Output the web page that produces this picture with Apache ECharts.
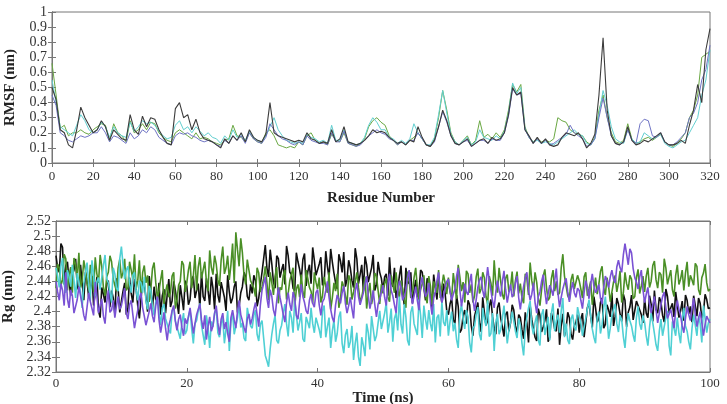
<!DOCTYPE html>
<html>
<head>
<meta charset="utf-8">
<script src="https://cdn.jsdelivr.net/npm/echarts@6/dist/echarts.min.js"></script>
<style>html,body{margin:0;padding:0;background:#fff}#c{width:727px;height:404px}</style>
</head>
<body>
<div id="c"></div>
<script>
// ---------- Top panel: RMSF per residue (residues 0..320, step 2) ----------
const rmsfBlack = [
0.50,0.42,0.22,0.20,0.12,0.10,0.22,0.37,0.30,0.25,0.20,
0.22,0.28,0.24,0.15,0.22,0.19,0.16,0.15,0.32,0.22,0.19,0.31,0.24,0.30,0.29,0.22,0.17,0.13,0.12,0.36,0.40,0.30,0.32,0.22,0.29,0.20,0.16,0.15,0.14,0.12,
0.10,0.16,0.13,0.18,0.15,0.20,0.14,0.22,0.17,0.15,0.14,0.19,0.40,0.20,0.18,0.17,0.16,0.15,0.14,0.15,0.14,0.20,0.16,0.15,0.13,0.14,0.13,0.22,0.14,0.16,0.24,0.14,0.13,0.12,0.13,0.15,0.18,0.22,0.20,0.21,
0.20,0.17,0.15,0.13,0.14,0.12,0.15,0.14,0.24,0.17,0.12,0.11,0.15,0.24,0.35,0.28,0.18,0.13,0.12,0.14,0.16,0.11,0.13,0.15,0.16,0.13,0.17,0.15,0.16,0.20,0.32,0.50,0.45,0.47,0.22,0.18,0.13,0.17,0.13,0.16,
0.12,0.11,0.12,0.17,0.20,0.19,0.18,0.20,0.16,0.10,0.13,0.19,0.45,0.83,0.35,0.18,0.13,0.12,0.14,0.24,0.15,0.12,0.13,0.15,0.14,0.16,0.18,0.20,0.14,0.12,0.12,0.13,0.15,0.13,0.25,0.35,0.52,0.40,0.75,0.89
];
const rmsfGreen = [
0.66,0.45,0.23,0.25,0.18,0.20,0.20,0.22,0.20,0.19,0.22,
0.24,0.26,0.25,0.15,0.26,0.20,0.18,0.14,0.28,0.20,0.22,0.26,0.22,0.27,0.26,0.20,0.17,0.15,0.14,0.20,0.22,0.20,0.18,0.16,0.20,0.16,0.17,0.16,0.14,0.13,
0.12,0.15,0.16,0.25,0.18,0.17,0.14,0.20,0.16,0.14,0.13,0.20,0.22,0.18,0.12,0.11,0.10,0.11,0.10,0.14,0.12,0.18,0.20,0.15,0.13,0.14,0.12,0.19,0.15,0.14,0.20,0.13,0.12,0.11,0.13,0.16,0.24,0.28,0.30,0.27,
0.25,0.18,0.15,0.12,0.14,0.12,0.15,0.17,0.20,0.16,0.12,0.11,0.16,0.30,0.48,0.35,0.20,0.14,0.12,0.15,0.18,0.12,0.15,0.28,0.17,0.19,0.16,0.20,0.17,0.22,0.35,0.52,0.47,0.52,0.24,0.17,0.14,0.16,0.14,0.15,
0.14,0.16,0.30,0.28,0.27,0.22,0.20,0.19,0.18,0.14,0.12,0.17,0.35,0.45,0.30,0.20,0.14,0.13,0.15,0.26,0.16,0.13,0.14,0.16,0.17,0.15,0.17,0.19,0.14,0.12,0.11,0.13,0.16,0.20,0.30,0.35,0.45,0.70,0.72,0.74
];
const rmsfCyan = [
0.55,0.40,0.24,0.22,0.20,0.18,0.25,0.32,0.28,0.22,0.20,
0.22,0.27,0.24,0.17,0.24,0.20,0.18,0.17,0.27,0.21,0.24,0.28,0.26,0.27,0.25,0.21,0.18,0.16,0.17,0.25,0.28,0.22,0.24,0.20,0.24,0.21,0.18,0.20,0.17,0.16,
0.13,0.18,0.15,0.22,0.17,0.19,0.15,0.21,0.17,0.15,0.14,0.18,0.24,0.30,0.22,0.18,0.15,0.14,0.13,0.14,0.13,0.19,0.17,0.16,0.14,0.15,0.13,0.25,0.15,0.15,0.22,0.14,0.13,0.12,0.13,0.17,0.25,0.30,0.27,0.22,
0.22,0.17,0.16,0.13,0.15,0.13,0.16,0.26,0.20,0.16,0.12,0.12,0.17,0.32,0.48,0.33,0.19,0.14,0.12,0.15,0.17,0.12,0.14,0.22,0.17,0.16,0.15,0.18,0.16,0.21,0.33,0.53,0.46,0.50,0.23,0.17,0.14,0.15,0.13,0.14,
0.13,0.12,0.14,0.16,0.18,0.20,0.22,0.19,0.18,0.13,0.12,0.16,0.32,0.48,0.38,0.24,0.16,0.14,0.13,0.22,0.16,0.13,0.14,0.20,0.18,0.16,0.17,0.19,0.13,0.11,0.10,0.12,0.14,0.15,0.20,0.25,0.30,0.45,0.55,0.75
];
const rmsfPurple = [
0.45,0.38,0.20,0.18,0.15,0.14,0.16,0.18,0.17,0.18,0.20,
0.20,0.24,0.20,0.14,0.18,0.17,0.15,0.13,0.20,0.16,0.18,0.22,0.20,0.24,0.22,0.17,0.15,0.13,0.12,0.18,0.20,0.19,0.20,0.18,0.17,0.15,0.14,0.15,0.14,0.12,
0.11,0.15,0.13,0.18,0.15,0.18,0.13,0.20,0.16,0.14,0.13,0.17,0.26,0.22,0.18,0.16,0.15,0.13,0.12,0.14,0.12,0.18,0.15,0.14,0.13,0.13,0.12,0.20,0.14,0.14,0.21,0.13,0.12,0.11,0.12,0.15,0.18,0.20,0.22,0.20,
0.19,0.16,0.15,0.12,0.14,0.12,0.15,0.15,0.20,0.16,0.12,0.11,0.14,0.24,0.34,0.27,0.18,0.13,0.12,0.14,0.15,0.11,0.13,0.15,0.15,0.13,0.16,0.15,0.15,0.20,0.31,0.49,0.45,0.46,0.22,0.17,0.13,0.16,0.13,0.15,
0.12,0.13,0.15,0.17,0.19,0.25,0.20,0.18,0.16,0.11,0.12,0.16,0.30,0.43,0.30,0.18,0.13,0.12,0.14,0.22,0.15,0.13,0.26,0.29,0.28,0.18,0.17,0.20,0.14,0.12,0.12,0.14,0.17,0.20,0.30,0.33,0.40,0.55,0.62,0.78
];

// ---------- Bottom panel: Rg over time ----------
// "A" arrays: samples at t = 0, 0.5, 1.0 ... 100 ns; "B" arrays: samples at t = 0.25, 0.75 ... 99.75 ns
const rgBlackA = [
2.474,2.452,2.485,2.461,2.440,2.449,2.470,2.428,2.438,2.452,2.419,2.447,2.425,2.401,2.432,2.412,2.441,2.428,2.397,2.430,
2.414,2.438,2.405,2.424,2.443,2.408,2.417,2.436,2.400,2.428,2.433,2.411,2.396,2.430,2.422,2.406,2.440,2.413,2.435,2.402,
2.434,2.416,2.447,2.428,2.405,2.420,2.444,2.409,2.431,2.450,2.412,2.437,2.401,2.426,2.418,2.440,2.407,2.433,2.446,2.415,
2.424,2.441,2.418,2.452,2.488,2.446,2.463,2.431,2.470,2.455,2.436,2.474,2.449,2.428,2.466,2.442,2.477,2.453,2.437,2.468,
2.447,2.472,2.438,2.460,2.483,2.451,2.430,2.467,2.479,2.443,2.458,2.432,2.470,2.449,2.427,2.462,2.440,2.475,2.436,2.452,
2.428,2.450,2.472,2.433,2.418,2.447,2.425,2.458,2.437,2.411,2.442,2.426,2.452,2.415,2.438,2.405,2.431,2.446,2.412,2.424,
2.396,2.418,2.384,2.407,2.376,2.402,2.415,2.381,2.394,2.412,2.373,2.399,2.388,2.416,2.378,2.405,2.391,2.367,2.400,2.385,
2.402,2.371,2.392,2.364,2.385,2.408,2.377,2.361,2.395,2.380,2.403,2.366,2.389,2.374,2.356,2.397,2.378,2.392,2.363,2.386,
2.372,2.398,2.385,2.412,2.379,2.405,2.391,2.418,2.383,2.402,2.425,2.394,2.410,2.387,2.415,2.399,2.422,2.390,2.408,2.396,
2.417,2.392,2.410,2.428,2.398,2.413,2.386,2.420,2.405,2.393,2.424,2.401,2.388,2.415,2.407,2.421,2.394,2.411,2.399,2.416,
2.405
];
const rgBlackB = [
2.458,2.490,2.436,2.466,2.421,2.455,2.433,2.462,2.415,2.440,2.429,2.408,2.446,2.392,2.423,2.437,2.406,2.418,2.444,2.399,
2.427,2.396,2.445,2.412,2.430,2.391,2.440,2.419,2.447,2.404,2.416,2.438,2.421,2.398,2.443,2.414,2.428,2.397,2.419,2.441,
2.409,2.442,2.418,2.437,2.452,2.414,2.428,2.446,2.403,2.422,2.439,2.419,2.448,2.411,2.433,2.399,2.425,2.452,2.420,2.436,
2.448,2.407,2.436,2.470,2.458,2.482,2.439,2.474,2.445,2.463,2.487,2.452,2.431,2.478,2.456,2.469,2.434,2.462,2.485,2.448,
2.463,2.435,2.480,2.445,2.466,2.438,2.476,2.452,2.433,2.468,2.441,2.484,2.437,2.462,2.473,2.439,2.458,2.428,2.466,2.444,
2.446,2.421,2.440,2.458,2.429,2.461,2.409,2.440,2.452,2.428,2.419,2.455,2.432,2.444,2.421,2.449,2.416,2.428,2.437,2.401,
2.410,2.389,2.422,2.372,2.395,2.384,2.409,2.368,2.403,2.386,2.419,2.382,2.407,2.393,2.370,2.412,2.380,2.396,2.374,2.409,
2.381,2.396,2.376,2.399,2.359,2.390,2.366,2.404,2.373,2.388,2.360,2.398,2.377,2.404,2.382,2.368,2.399,2.370,2.381,2.396,
2.390,2.366,2.405,2.394,2.420,2.386,2.412,2.378,2.409,2.393,2.381,2.418,2.397,2.423,2.380,2.406,2.389,2.414,2.402,2.385,
2.398,2.421,2.387,2.403,2.419,2.395,2.430,2.398,2.411,2.426,2.392,2.414,2.422,2.397,2.386,2.408,2.418,2.391,2.423,2.404
];
const rgGreenA = [
2.431,2.458,2.442,2.470,2.449,2.425,2.462,2.478,2.440,2.455,2.429,2.447,2.472,2.438,2.460,2.421,2.452,2.466,2.435,2.458,
2.444,2.470,2.432,2.455,2.476,2.441,2.423,2.461,2.448,2.430,2.465,2.418,2.442,2.410,2.436,2.425,2.452,2.415,2.440,2.462,
2.438,2.466,2.447,2.428,2.472,2.455,2.440,2.481,2.449,2.463,2.434,2.486,2.458,2.442,2.490,2.505,2.460,2.478,2.436,2.455,
2.442,2.420,2.451,2.433,2.460,2.415,2.438,2.447,2.411,2.429,2.455,2.424,2.440,2.406,2.436,2.449,2.418,2.444,2.427,2.452,
2.430,2.412,2.446,2.425,2.403,2.438,2.450,2.417,2.433,2.409,2.442,2.426,2.452,2.414,2.431,2.404,2.438,2.421,2.447,2.410,
2.424,2.444,2.413,2.436,2.452,2.419,2.430,2.405,2.441,2.426,2.458,2.415,2.437,2.422,2.447,2.409,2.433,2.455,2.420,2.438,
2.445,2.418,2.433,2.462,2.427,2.412,2.450,2.436,2.421,2.457,2.430,2.445,2.410,2.438,2.468,2.425,2.440,2.416,2.449,2.432,
2.420,2.453,2.437,2.411,2.444,2.465,2.428,2.439,2.408,2.447,2.432,2.419,2.455,2.440,2.425,2.476,2.434,2.416,2.450,2.428,
2.441,2.418,2.452,2.430,2.409,2.445,2.436,2.460,2.422,2.433,2.415,2.448,2.438,2.412,2.452,2.429,2.443,2.420,2.456,2.434,
2.426,2.458,2.440,2.467,2.431,2.449,2.470,2.436,2.455,2.420,2.462,2.443,2.428,2.466,2.448,2.435,2.460,2.422,2.451,2.438,
2.430
];
const rgGreenB = [
2.463,2.435,2.476,2.428,2.459,2.471,2.444,2.432,2.468,2.437,2.462,2.426,2.450,2.475,2.432,2.446,2.474,2.443,2.427,2.469,
2.452,2.428,2.466,2.443,2.430,2.468,2.452,2.438,2.413,2.457,2.439,2.428,2.455,2.426,2.419,2.447,2.404,2.435,2.467,2.426,
2.455,2.431,2.475,2.459,2.444,2.466,2.427,2.459,2.474,2.442,2.468,2.450,2.474,2.462,2.438,2.482,2.497,2.448,2.469,2.441,
2.431,2.458,2.426,2.444,2.438,2.452,2.422,2.459,2.432,2.448,2.416,2.441,2.458,2.430,2.419,2.426,2.455,2.432,2.411,2.439,
2.445,2.421,2.433,2.452,2.418,2.427,2.405,2.440,2.421,2.448,2.416,2.439,2.432,2.419,2.446,2.424,2.410,2.451,2.428,2.436,
2.437,2.419,2.448,2.425,2.429,2.441,2.416,2.453,2.418,2.445,2.432,2.429,2.448,2.411,2.434,2.440,2.425,2.418,2.449,2.423,
2.426,2.451,2.417,2.446,2.439,2.454,2.425,2.412,2.446,2.424,2.452,2.420,2.447,2.421,2.437,2.458,2.423,2.444,2.426,2.453,
2.441,2.424,2.418,2.450,2.422,2.441,2.452,2.417,2.429,2.456,2.415,2.444,2.427,2.422,2.458,2.447,2.421,2.442,2.430,2.448,
2.430,2.446,2.421,2.440,2.428,2.423,2.453,2.431,2.445,2.413,2.439,2.426,2.454,2.425,2.437,2.448,2.417,2.445,2.424,2.447,
2.447,2.432,2.461,2.442,2.452,2.425,2.458,2.446,2.429,2.448,2.436,2.455,2.451,2.433,2.442,2.464,2.429,2.445,2.463,2.427
];
const rgCyanA = [
2.458,2.432,2.471,2.425,2.446,2.462,2.418,2.440,2.405,2.452,2.436,2.468,2.420,2.445,2.429,2.475,2.438,2.412,2.450,2.427,
2.486,2.443,2.460,2.425,2.452,2.415,2.438,2.446,2.403,2.428,2.395,2.419,2.382,2.410,2.392,2.371,2.405,2.380,2.364,2.398,
2.375,2.402,2.358,2.388,2.411,2.369,2.395,2.352,2.380,2.404,2.366,2.391,2.377,2.348,2.398,2.372,2.410,2.385,2.361,2.393,
2.378,2.402,2.361,2.388,2.342,2.327,2.370,2.395,2.358,2.382,2.410,2.367,2.392,2.415,2.375,2.398,2.360,2.386,2.405,2.372,
2.394,2.365,2.408,2.380,2.352,2.389,2.371,2.400,2.345,2.377,2.360,2.336,2.372,2.328,2.355,2.384,2.350,2.392,2.368,2.401,
2.378,2.412,2.386,2.360,2.398,2.420,2.371,2.393,2.355,2.407,2.382,2.416,2.365,2.390,2.402,2.374,2.359,2.396,2.413,2.381,
2.368,2.400,2.385,2.352,2.410,2.377,2.393,2.346,2.381,2.406,2.362,2.390,2.415,2.371,2.348,2.397,2.376,2.408,2.358,2.386,
2.399,2.365,2.382,2.342,2.392,2.414,2.370,2.395,2.355,2.403,2.380,2.362,2.411,2.388,2.372,2.418,2.384,2.357,2.396,2.375,
2.404,2.368,2.391,2.416,2.377,2.358,2.400,2.383,2.420,2.364,2.395,2.410,2.373,2.389,2.352,2.398,2.381,2.360,2.407,2.376,
2.386,2.355,2.398,2.371,2.348,2.390,2.366,2.401,2.342,2.378,2.392,2.358,2.405,2.374,2.350,2.396,2.368,2.384,2.408,2.372,
2.390
];
const rgCyanB = [
2.447,2.460,2.436,2.455,2.433,2.441,2.451,2.426,2.437,2.465,2.414,2.449,2.440,2.429,2.461,2.444,2.425,2.458,2.431,2.470,
2.462,2.455,2.437,2.448,2.428,2.441,2.425,2.415,2.434,2.407,2.413,2.398,2.405,2.391,2.376,2.401,2.388,2.372,2.385,2.370,
2.394,2.377,2.384,2.401,2.382,2.356,2.379,2.387,2.398,2.372,2.385,2.358,2.401,2.387,2.370,2.392,2.379,2.365,2.405,2.381,
2.395,2.370,2.383,2.365,2.335,2.351,2.384,2.362,2.375,2.398,2.384,2.401,2.372,2.396,2.386,2.364,2.393,2.378,2.384,2.392,
2.376,2.401,2.366,2.392,2.374,2.360,2.393,2.358,2.369,2.352,2.381,2.358,2.340,2.366,2.341,2.372,2.394,2.361,2.385,2.377,
2.398,2.372,2.404,2.391,2.375,2.383,2.410,2.362,2.399,2.384,2.369,2.395,2.408,2.376,2.384,2.410,2.392,2.367,2.386,2.402,
2.387,2.374,2.363,2.396,2.390,2.402,2.359,2.378,2.396,2.370,2.405,2.381,2.367,2.398,2.385,2.370,2.391,2.382,2.375,2.400,
2.374,2.391,2.358,2.376,2.405,2.381,2.386,2.362,2.396,2.369,2.393,2.398,2.374,2.396,2.401,2.366,2.362,2.390,2.380,2.406,
2.385,2.380,2.403,2.395,2.366,2.393,2.371,2.405,2.392,2.378,2.403,2.384,2.395,2.367,2.379,2.388,2.369,2.392,2.384,2.395,
2.368,2.379,2.385,2.356,2.374,2.368,2.392,2.355,2.387,2.368,2.371,2.389,2.381,2.360,2.378,2.382,2.394,2.359,2.391,2.385
];
const rgPurpleA = [
2.440,2.415,2.428,2.452,2.405,2.421,2.396,2.433,2.410,2.388,2.425,2.412,2.439,2.398,2.417,2.384,2.428,2.402,2.392,2.420,
2.408,2.431,2.390,2.415,2.378,2.402,2.425,2.394,2.380,2.411,2.386,2.420,2.372,2.399,2.362,2.390,2.408,2.375,2.396,2.368,
2.384,2.405,2.371,2.396,2.410,2.377,2.363,2.393,2.381,2.408,2.369,2.398,2.386,2.360,2.402,2.378,2.415,2.388,2.372,2.397,
2.391,2.412,2.380,2.428,2.446,2.405,2.420,2.394,2.432,2.408,2.386,2.425,2.401,2.418,2.390,2.436,2.412,2.397,2.423,2.406,
2.429,2.395,2.417,2.440,2.403,2.386,2.422,2.411,2.434,2.398,2.419,2.391,2.438,2.409,2.425,2.447,2.404,2.428,2.393,2.416,
2.435,2.408,2.450,2.421,2.398,2.441,2.415,2.429,2.455,2.410,2.433,2.402,2.446,2.420,2.438,2.396,2.427,2.452,2.412,2.431,
2.443,2.415,2.430,2.458,2.407,2.437,2.422,2.450,2.401,2.432,2.446,2.418,2.459,2.428,2.405,2.441,2.420,2.454,2.412,2.436,
2.424,2.447,2.403,2.433,2.452,2.415,2.438,2.398,2.426,2.449,2.410,2.435,2.421,2.457,2.406,2.430,2.444,2.413,2.439,2.419,
2.428,2.404,2.441,2.417,2.450,2.425,2.436,2.410,2.447,2.432,2.455,2.438,2.468,2.452,2.490,2.462,2.478,2.445,2.430,2.455,
2.412,2.432,2.398,2.420,2.385,2.409,2.426,2.391,2.403,2.378,2.415,2.395,2.372,2.407,2.388,2.418,2.380,2.400,2.368,2.394,
2.385
];
const rgPurpleB = [
2.426,2.437,2.408,2.417,2.429,2.398,2.416,2.421,2.395,2.406,2.413,2.395,2.421,2.408,2.394,2.412,2.399,2.415,2.408,2.403,
2.419,2.398,2.409,2.396,2.391,2.418,2.405,2.382,2.400,2.394,2.408,2.389,2.385,2.378,2.381,2.401,2.387,2.390,2.379,2.391,
2.393,2.388,2.384,2.403,2.389,2.395,2.380,2.374,2.398,2.385,2.390,2.377,2.371,2.392,2.389,2.401,2.396,2.379,2.390,2.383,
2.403,2.396,2.409,2.437,2.418,2.429,2.402,2.414,2.419,2.396,2.412,2.410,2.426,2.395,2.413,2.420,2.401,2.415,2.411,2.425,
2.409,2.413,2.428,2.419,2.392,2.409,2.416,2.425,2.411,2.408,2.404,2.427,2.420,2.417,2.436,2.421,2.415,2.409,2.410,2.426,
2.419,2.437,2.428,2.409,2.427,2.432,2.420,2.445,2.425,2.421,2.415,2.436,2.431,2.424,2.412,2.418,2.441,2.426,2.420,2.440,
2.427,2.423,2.447,2.429,2.421,2.426,2.439,2.417,2.416,2.442,2.428,2.437,2.441,2.414,2.426,2.428,2.440,2.429,2.425,2.419,
2.438,2.418,2.420,2.445,2.428,2.423,2.412,2.420,2.440,2.427,2.424,2.429,2.441,2.425,2.419,2.438,2.426,2.428,2.425,2.431,
2.415,2.425,2.432,2.436,2.434,2.429,2.418,2.432,2.441,2.446,2.443,2.459,2.458,2.475,2.476,2.483,2.457,2.439,2.446,2.429,
2.423,2.411,2.409,2.402,2.398,2.420,2.405,2.397,2.392,2.401,2.403,2.381,2.391,2.396,2.404,2.396,2.391,2.385,2.383,2.389
];

const RES_STEP = 2;      // residue spacing of RMSF samples
const TIME_STEP = 0.5;   // ns spacing within each A/B sample set
const pairs = (arr, step) => arr.map((v, i) => [i * step, v]);
// interleave the two sample sets in time order
function mergeAB(a, b) {
  const out = [];
  for (let i = 0; i < a.length; i++) {
    out.push([i * TIME_STEP, a[i]]);
    if (i < b.length) out.push([i * TIME_STEP + TIME_STEP / 2, b[i]]);
  }
  return out;
}

const FONT = '"Liberation Serif", "DejaVu Serif", serif';
const axisLineStyle = { lineStyle: { color: '#777', width: 1 } };
const tickStyle = { inside: true, length: 4, lineStyle: { color: '#777' } };
const xlbl = { fontFamily: FONT, fontSize: 13, color: '#333', showMinLabel: true, showMaxLabel: true, hideOverlap: false };
const ylbl = { fontFamily: FONT, fontSize: 14, color: '#333', showMinLabel: true, showMaxLabel: true, hideOverlap: false };
const nameStyle = { fontFamily: FONT, fontSize: 15, fontWeight: 'bold', color: '#222' };

function line(data, color, xi, width) {
  return { type: 'line', xAxisIndex: xi, yAxisIndex: xi, data, showSymbol: false, symbol: 'none',
           lineStyle: { color, width }, itemStyle: { color }, animation: false, z: 2 };
}

const chart = echarts.init(document.getElementById('c'), null, { renderer: 'canvas' });
chart.setOption({
  backgroundColor: '#fff',
  animation: false,
  grid: [
    { left: 52, right: 17, top: 12, height: 151, show: true, borderColor: '#777', borderWidth: 1, containLabel: false, outerBoundsMode: 'none' },
    { left: 56, right: 17, top: 221, height: 151, show: true, borderColor: '#777', borderWidth: 1, containLabel: false, outerBoundsMode: 'none' }
  ],
  xAxis: [
    { gridIndex: 0, type: 'value', min: 0, max: 320, interval: 20, position: 'bottom',
      axisLine: axisLineStyle, axisTick: tickStyle, splitLine: { show: false },
      axisLabel: Object.assign({ margin: 7 }, xlbl),
      name: 'Residue Number', nameLocation: 'middle', nameGap: 28, nameTextStyle: nameStyle },
    { gridIndex: 1, type: 'value', min: 0, max: 100, interval: 20, position: 'bottom',
      axisLine: axisLineStyle, axisTick: tickStyle, splitLine: { show: false },
      axisLabel: Object.assign({ margin: 5 }, xlbl),
      name: 'Time (ns)', nameLocation: 'middle', nameGap: 9, nameTextStyle: nameStyle },
    { gridIndex: 0, type: 'value', min: 0, max: 320, interval: 20, position: 'top',
      axisLine: axisLineStyle, axisTick: tickStyle, axisLabel: { show: false }, splitLine: { show: false } },
    { gridIndex: 1, type: 'value', min: 0, max: 100, interval: 20, position: 'top',
      axisLine: axisLineStyle, axisTick: tickStyle, axisLabel: { show: false }, splitLine: { show: false } }
  ],
  yAxis: [
    { gridIndex: 0, type: 'value', min: 0, max: 1, interval: 0.1, position: 'left',
      axisLine: Object.assign({ show: true }, axisLineStyle), axisTick: Object.assign({ show: true }, tickStyle), splitLine: { show: false },
      axisLabel: Object.assign({ margin: 5, formatter: v => +v.toFixed(1) + '' }, ylbl),
      name: 'RMSF (nm)', nameLocation: 'middle', nameGap: 34, nameRotate: 90, nameTextStyle: nameStyle },
    { gridIndex: 1, type: 'value', min: 2.32, max: 2.52, interval: 0.02, position: 'left',
      axisLine: Object.assign({ show: true }, axisLineStyle), axisTick: Object.assign({ show: true }, tickStyle), splitLine: { show: false },
      axisLabel: Object.assign({ margin: 5, formatter: v => +v.toFixed(2) + '' }, ylbl),
      name: 'Rg (nm)', nameLocation: 'middle', nameGap: 36, nameRotate: 90, nameTextStyle: nameStyle },
    { gridIndex: 0, type: 'value', min: 0, max: 1, interval: 0.1, position: 'right',
      axisLine: Object.assign({ show: true }, axisLineStyle), axisTick: Object.assign({ show: true }, tickStyle), axisLabel: { show: false }, splitLine: { show: false } },
    { gridIndex: 1, type: 'value', min: 2.32, max: 2.52, interval: 0.02, position: 'right',
      axisLine: Object.assign({ show: true }, axisLineStyle), axisTick: Object.assign({ show: true }, tickStyle), axisLabel: { show: false }, splitLine: { show: false } }
  ],
  series: [
    line(pairs(rmsfGreen, RES_STEP), '#6aa843', 0, 1),
    line(pairs(rmsfCyan, RES_STEP), '#62cfd0', 0, 1),
    line(pairs(rmsfPurple, RES_STEP), '#6f74c4', 0, 1),
    line(pairs(rmsfBlack, RES_STEP), '#3c3c3c', 0, 1.1),
    line(mergeAB(rgBlackA, rgBlackB), '#111111', 1, 1.6),
    line(mergeAB(rgGreenA, rgGreenB), '#4a8f26', 1, 1.6),
    line(mergeAB(rgCyanA, rgCyanB), '#4fd0d4', 1, 1.6),
    line(mergeAB(rgPurpleA, rgPurpleB), '#7a52d4', 1, 1.6)
  ]
});
</script>
</body>
</html>
